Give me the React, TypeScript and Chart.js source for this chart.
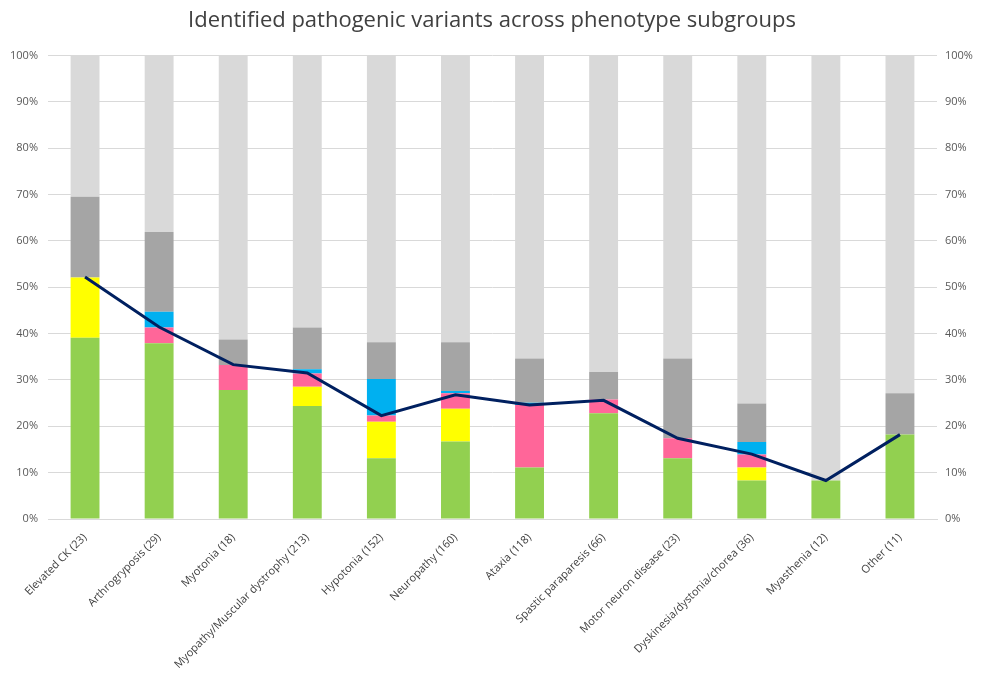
import { useEffect, useRef } from 'react';
import { Chart, registerables } from 'chart.js';
Chart.register(...registerables);

const subgroups = [
  'Elevated CK (23)', 'Arthrogryposis (29)', 'Myotonia (18)', 'Myopathy/Muscular dystrophy (213)',
  'Hypotonia (152)', 'Neuropathy (160)', 'Ataxia (118)', 'Spastic paraparesis (66)',
  'Motor neuron disease (23)', 'Dyskinesia/dystonia/chorea (36)', 'Myasthenia (12)', 'Other (11)',
];

// stacked segments, bottom to top (%)
const green     = [39.1, 37.9, 27.8, 24.4, 13.1, 16.7, 11.1, 22.8, 13.1, 8.3, 8.3, 18.2];
const yellow    = [13.0, 0, 0, 4.1, 7.9, 7.1, 0, 0, 0, 2.8, 0, 0];
const pink      = [0, 3.4, 5.4, 2.9, 1.3, 3.3, 13.5, 3.0, 4.3, 2.8, 0, 0];
const blue      = [0, 3.4, 0, 0.9, 7.9, 0.5, 0.5, 0, 0, 2.7, 0, 0];
const darkGray  = [17.4, 17.2, 5.5, 9.0, 7.9, 10.5, 9.5, 5.9, 17.2, 8.3, 0, 8.9];
const lightGray = [30.5, 38.1, 61.3, 58.7, 61.9, 61.9, 65.4, 68.3, 65.4, 75.1, 91.7, 72.9];

const lineVals  = [52.2, 41.4, 33.3, 31.5, 22.3, 26.8, 24.6, 25.6, 17.4, 14.0, 8.3, 18.2];

const pctTicks = [0, 10, 20, 30, 40, 50, 60, 70, 80, 90, 100];

export default function App() {
  const ref = useRef<HTMLCanvasElement>(null);

  useEffect(() => {
    const bar = (data: number[], color: string) => ({
      type: 'bar' as const, data, backgroundColor: color, borderWidth: 0,
      stack: 'bars', order: 1, barPercentage: 0.39, categoryPercentage: 1,
    });
    const tickFont = { family: 'Open Sans', size: 11 };
    const pctAxis = (position: 'left' | 'right', grid: boolean) => ({
      position, min: 0, max: 100, stacked: true,
      afterBuildTicks: (s: any) => { s.ticks = pctTicks.map(v => ({ value: v })); },
      afterFit: (s: any) => { s.width = position === 'left' ? 48 : 47; },
      border: { display: false },
      grid: { display: grid, color: '#d9d9d9', lineWidth: 1, drawTicks: false },
      ticks: { color: '#595959', font: tickFont, padding: position === 'left' ? 10 : 8, callback: (v: any) => v + '%' },
    });

    const chart = new Chart(ref.current!, {
      data: {
        labels: subgroups,
        datasets: [
          { type: 'line', data: lineVals, borderColor: '#002060', borderWidth: 3, pointRadius: 0, stack: 'line', order: 0, tension: 0 },
          bar(green, '#92d050'),
          bar(yellow, '#ffff00'),
          bar(pink, '#ff6699'),
          bar(blue, '#00b0f0'),
          bar(darkGray, '#a5a5a5'),
          bar(lightGray, '#d9d9d9'),
        ],
      } as any,
      options: {
        responsive: true, maintainAspectRatio: false, animation: false,
        layout: { padding: 0 },
        plugins: {
          legend: { display: false },
          tooltip: { enabled: false },
          title: {
            display: true, text: 'Identified pathogenic variants across phenotype subgroups',
            color: '#404040', font: { family: 'Open Sans', size: 22, weight: 'normal', lineHeight: 1.2 },
            padding: { top: 8, bottom: 21 },
          },
        },
        scales: {
          x: {
            stacked: true,
            grid: { display: false },
            border: { color: '#d9d9d9' },
            afterFit: (s: any) => { s.height = 158; },
            ticks: { color: '#404040', font: tickFont, autoSkip: false, minRotation: 45, maxRotation: 45, padding: 4 },
          },
          y: pctAxis('left', true),
          y2: pctAxis('right', false),
        },
      } as any,
    });
    return () => chart.destroy();
  }, []);

  return (
    <div style={{ position: 'absolute', left: 0, top: 0, width: 984, height: 677, background: '#fff' }}>
      <canvas ref={ref} />
    </div>
  );
}
